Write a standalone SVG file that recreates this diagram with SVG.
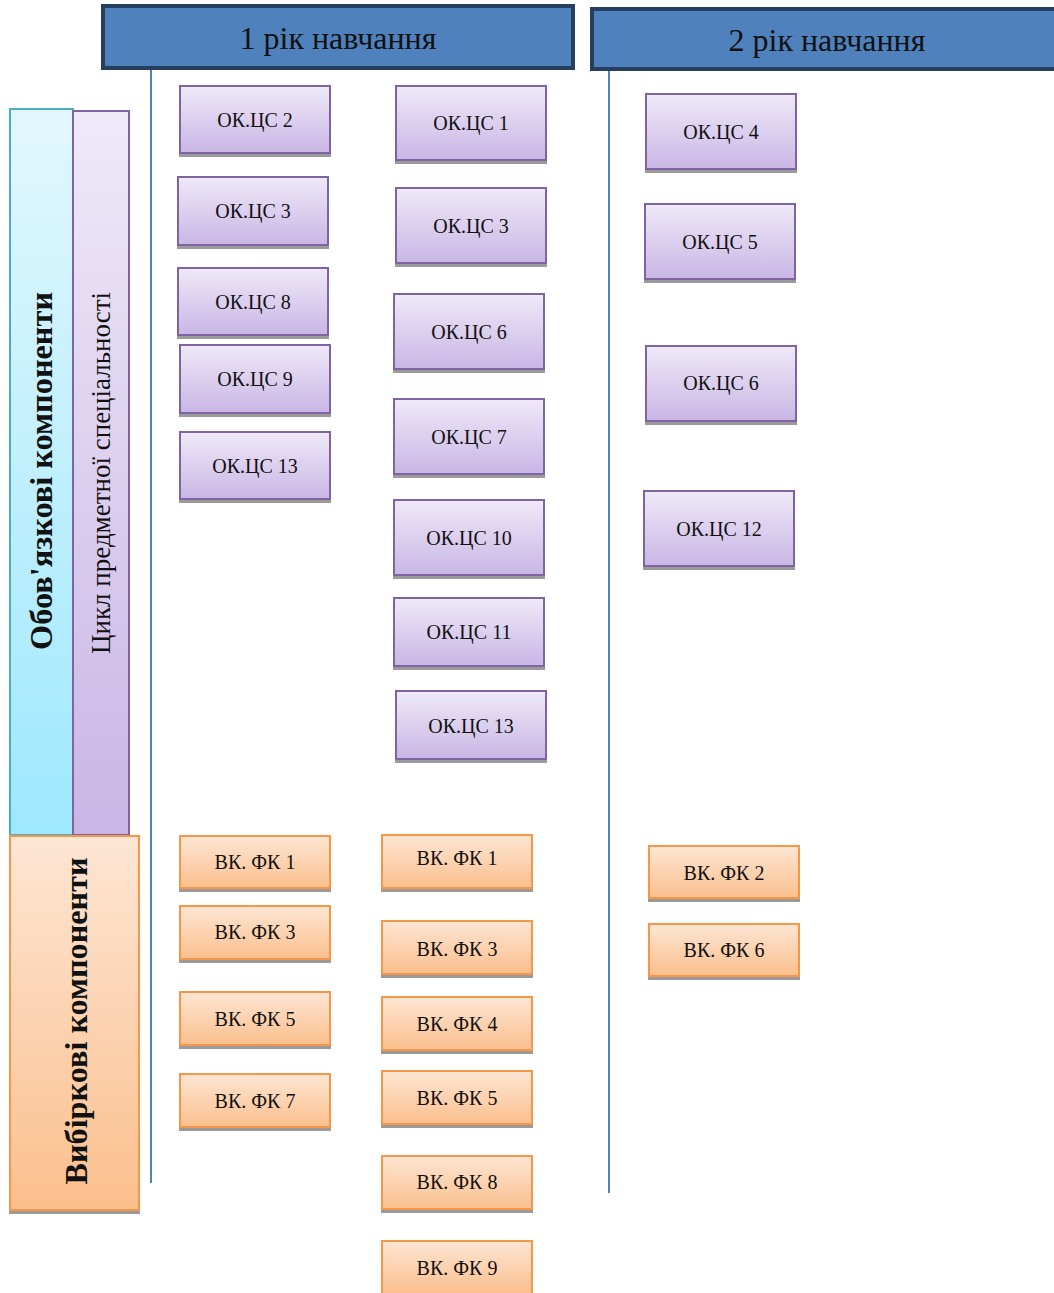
<svg xmlns="http://www.w3.org/2000/svg" width="1054" height="1293" viewBox="0 0 1054 1293">
<defs>
<linearGradient id="gP" x1="0" y1="0" x2="0" y2="1"><stop offset="0" stop-color="#efe9f8"/><stop offset="1" stop-color="#c9b6e5"/></linearGradient>
<linearGradient id="gO" x1="0" y1="0" x2="0" y2="1"><stop offset="0" stop-color="#fde6d4"/><stop offset="1" stop-color="#fbbf8d"/></linearGradient>
<linearGradient id="gC" x1="0" y1="0" x2="0" y2="1"><stop offset="0" stop-color="#e2f7fd"/><stop offset="1" stop-color="#9ee8fd"/></linearGradient>
<filter id="ds" x="-5%" y="-5%" width="110%" height="120%"><feDropShadow dx="0" dy="3" stdDeviation="0" flood-color="#9a9a9a" flood-opacity="1"/></filter>
</defs>
<style>
.hd{fill:#4f81bd;stroke:#263f5f;stroke-width:4}
.ht{font-family:"Liberation Serif","Times New Roman",serif;font-size:32px;fill:#111;text-anchor:middle}
.p{fill:url(#gP);stroke:#8064a2;stroke-width:2;filter:url(#ds)}
.o{fill:url(#gO);stroke:#f79646;stroke-width:2;filter:url(#ds)}
.c{fill:url(#gC);stroke:#4bacc6;stroke-width:2;filter:url(#ds)}
.t{font-family:"Liberation Serif","Times New Roman",serif;font-size:20px;fill:#111;text-anchor:middle;dominant-baseline:central}
.vb{font-family:"Liberation Serif","Times New Roman",serif;font-size:31px;font-weight:bold;fill:#111;text-anchor:middle;dominant-baseline:central}
.vn{font-family:"Liberation Serif","Times New Roman",serif;font-size:27px;fill:#111;text-anchor:middle;dominant-baseline:central}
.ln{stroke:#4f81bd;stroke-width:2;fill:none}
</style>
<rect width="1054" height="1293" fill="#ffffff"/>
<g id="connectors">
<line class="ln" x1="151" y1="70" x2="151" y2="1183"/>
<line class="ln" x1="609" y1="71" x2="609" y2="1193"/>
</g>
<g id="year1"><rect class="hd" x="103" y="6" width="470" height="62"/><text class="ht" x="338" y="49">1 рік навчання</text></g>
<g id="year2"><rect class="hd" x="592" y="9" width="470" height="60"/><text class="ht" x="827" y="51">2 рік навчання</text></g>
<g id="mandatory"><rect class="c" x="10" y="109" width="63" height="726"/><text class="vb" transform="translate(41,471) rotate(-90)" textLength="358" lengthAdjust="spacingAndGlyphs">Обов'язкові компоненти</text></g>
<g id="cycle"><rect class="p" x="73" y="111" width="56" height="724"/><text class="vn" transform="translate(101,473) rotate(-90)" textLength="362" lengthAdjust="spacingAndGlyphs">Цикл предметної спеціальності</text></g>
<g id="elective"><rect class="o" x="10" y="836" width="129" height="374"/><text class="vb" transform="translate(76,1021) rotate(-90)" textLength="327" lengthAdjust="spacingAndGlyphs">Вибіркові компоненти</text></g>

<g id="a_ok2"><rect class="p" x="180" y="86" width="150" height="67"/><text class="t" x="255" y="120">ОК.ЦС 2</text></g>
<g id="a_ok3"><rect class="p" x="178" y="177" width="150" height="68"/><text class="t" x="253" y="211">ОК.ЦС 3</text></g>
<g id="a_ok8"><rect class="p" x="178" y="268" width="150" height="67"/><text class="t" x="253" y="302">ОК.ЦС 8</text></g>
<g id="a_ok9"><rect class="p" x="180" y="345" width="150" height="68"/><text class="t" x="255" y="379">ОК.ЦС 9</text></g>
<g id="a_ok13"><rect class="p" x="180" y="432" width="150" height="67"/><text class="t" x="255" y="466">ОК.ЦС 13</text></g>

<g id="b_ok1"><rect class="p" x="396" y="86" width="150" height="74"/><text class="t" x="471" y="123">ОК.ЦС 1</text></g>
<g id="b_ok3"><rect class="p" x="396" y="188" width="150" height="75"/><text class="t" x="471" y="226">ОК.ЦС 3</text></g>
<g id="b_ok6"><rect class="p" x="394" y="294" width="150" height="75"/><text class="t" x="469" y="332">ОК.ЦС 6</text></g>
<g id="b_ok7"><rect class="p" x="394" y="399" width="150" height="75"/><text class="t" x="469" y="437">ОК.ЦС 7</text></g>
<g id="b_ok10"><rect class="p" x="394" y="500" width="150" height="75"/><text class="t" x="469" y="538">ОК.ЦС 10</text></g>
<g id="b_ok11"><rect class="p" x="394" y="598" width="150" height="68"/><text class="t" x="469" y="632">ОК.ЦС 11</text></g>
<g id="b_ok13"><rect class="p" x="396" y="691" width="150" height="68"/><text class="t" x="471" y="726">ОК.ЦС 13</text></g>

<g id="c_ok4"><rect class="p" x="646" y="94" width="150" height="75"/><text class="t" x="721" y="132">ОК.ЦС 4</text></g>
<g id="c_ok5"><rect class="p" x="645" y="204" width="150" height="75"/><text class="t" x="720" y="242">ОК.ЦС 5</text></g>
<g id="c_ok6"><rect class="p" x="646" y="346" width="150" height="75"/><text class="t" x="721" y="383">ОК.ЦС 6</text></g>
<g id="c_ok12"><rect class="p" x="644" y="491" width="150" height="75"/><text class="t" x="719" y="529">ОК.ЦС 12</text></g>

<g id="a_vk1"><rect class="o" x="180" y="836" width="150" height="52"/><text class="t" x="255" y="862">ВК. ФК 1</text></g>
<g id="a_vk3"><rect class="o" x="180" y="906" width="150" height="53"/><text class="t" x="255" y="932">ВК. ФК 3</text></g>
<g id="a_vk5"><rect class="o" x="180" y="992" width="150" height="53"/><text class="t" x="255" y="1019">ВК. ФК 5</text></g>
<g id="a_vk7"><rect class="o" x="180" y="1074" width="150" height="53"/><text class="t" x="255" y="1101">ВК. ФК 7</text></g>

<g id="b_vk1"><rect class="o" x="382" y="835" width="150" height="53"/><text class="t" x="457" y="858">ВК. ФК 1</text></g>
<g id="b_vk3"><rect class="o" x="382" y="921" width="150" height="53"/><text class="t" x="457" y="949">ВК. ФК 3</text></g>
<g id="b_vk4"><rect class="o" x="382" y="997" width="150" height="53"/><text class="t" x="457" y="1024">ВК. ФК 4</text></g>
<g id="b_vk5"><rect class="o" x="382" y="1071" width="150" height="53"/><text class="t" x="457" y="1098">ВК. ФК 5</text></g>
<g id="b_vk8"><rect class="o" x="382" y="1156" width="150" height="53"/><text class="t" x="457" y="1182">ВК. ФК 8</text></g>
<g id="b_vk9"><rect class="o" x="382" y="1241" width="150" height="53"/><text class="t" x="457" y="1268">ВК. ФК 9</text></g>

<g id="c_vk2"><rect class="o" x="649" y="846" width="150" height="52"/><text class="t" x="724" y="873">ВК. ФК 2</text></g>
<g id="c_vk6"><rect class="o" x="649" y="924" width="150" height="52"/><text class="t" x="724" y="950">ВК. ФК 6</text></g>
</svg>
